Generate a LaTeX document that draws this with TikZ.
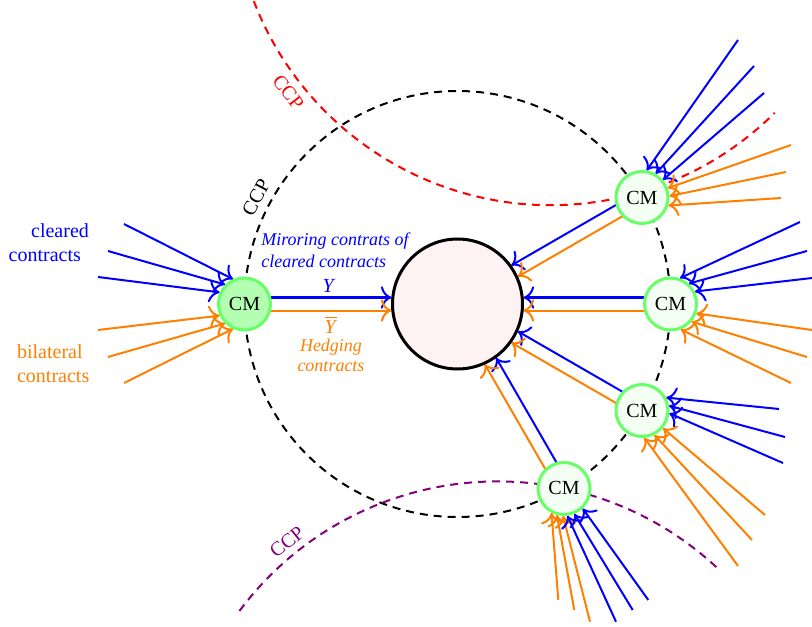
\documentclass[tikz,border=0pt]{standalone}
\usepackage{fontspec}
\setmainfont{Liberation Serif}
\usetikzlibrary{calc,backgrounds,arrows.meta}
\definecolor{cmgreen}{RGB}{102,255,102}
\definecolor{mypurple}{RGB}{128,0,128}
\begin{document}
\begin{tikzpicture}[x=0.5pt,y=0.5pt,
  cmnode/.style={circle,draw=cmgreen,line width=1.5pt,fill=green!5,minimum size=26pt,inner sep=0pt},
  ccpcirc/.style={line width=1pt,dash pattern=on 4pt off 3pt},
  bl/.style={blue,line width=1pt,-{To[scale=1.4]}},
  og/.style={orange,line width=1pt,-{To[scale=1.4]}},
]
\useasboundingbox (-457.5,-322) rectangle (354.5,304);
% central node and CM nodes
\node[circle,draw,line width=1.5pt,fill=red!5,minimum size=65pt,inner sep=0pt] (c) at (0,0) {};
\node[cmnode,fill=green!30] (cmL) at (180:213) {CM};
\node[cmnode] (cmTR) at (30:213) {CM};
\node[cmnode] (cmR) at (0:213) {CM};
\node[cmnode] (cmBR) at (-30:213) {CM};
\node[cmnode] (cmB) at (-60:213) {CM};

\begin{scope}[on background layer]
\draw[ccpcirc] (0,0) circle[radius=213];
\draw[ccpcirc,red] (93.2,416.8) ++(201:318) arc[start angle=201,end angle=314.8,radius=318];
\draw[ccpcirc,mypurple] (40.1,-499.4) ++(143.3:322) arc[start angle=143.3,end angle=46.2,radius=322];
% mirrored flows into the central node
\draw[bl] ($(cmL)+(90:6.5)$) -- ($(c)+(180:66)+(90:6.5)$);
\draw[og] ($(cmL)+(270:6.5)$) -- ($(c)+(180:66)+(270:6.5)$);
\draw[bl] ($(cmTR)+(120:6.5)$) -- ($(c)+(30:66)+(120:6.5)$);
\draw[og] ($(cmTR)+(-60:6.5)$) -- ($(c)+(30:66)+(-60:6.5)$);
\draw[bl] ($(cmR)+(90:6.5)$) -- ($(c)+(0:66)+(90:6.5)$);
\draw[og] ($(cmR)+(-90:6.5)$) -- ($(c)+(0:66)+(-90:6.5)$);
\draw[bl] ($(cmBR)+(60:6.5)$) -- ($(c)+(-30:66)+(60:6.5)$);
\draw[og] ($(cmBR)+(-120:6.5)$) -- ($(c)+(-30:66)+(-120:6.5)$);
\draw[bl] ($(cmB)+(30:6.5)$) -- ($(c)+(-60:66)+(30:6.5)$);
\draw[og] ($(cmB)+(-150:6.5)$) -- ($(c)+(-60:66)+(-150:6.5)$);
\end{scope}

% free ends of incoming contracts
\coordinate (lb1) at (-333.5,80);  \coordinate (lb2) at (-349.5,53);  \coordinate (lb3) at (-359.5,27);
\coordinate (lo1) at (-359.5,-26); \coordinate (lo2) at (-349.5,-53); \coordinate (lo3) at (-333.5,-79);
\coordinate (tb1) at (280.5,264);  \coordinate (tb2) at (296.5,238);  \coordinate (tb3) at (306.5,211);
\coordinate (to1) at (333.5,159);  \coordinate (to2) at (328.5,132);  \coordinate (to3) at (323.5,106);
\coordinate (rb1) at (342.5,82);   \coordinate (rb2) at (349.5,53);   \coordinate (rb3) at (354.5,26);
\coordinate (ro1) at (354.5,-26);  \coordinate (ro2) at (349.5,-53);  \coordinate (ro3) at (333.5,-79);
\coordinate (sb1) at (321.5,-105); \coordinate (sb2) at (327.5,-133); \coordinate (sb3) at (325.5,-159);
\coordinate (so1) at (307.5,-211); \coordinate (so2) at (294.5,-236); \coordinate (so3) at (280.5,-262);
\coordinate (bo1) at (100.8,-296); \coordinate (bo2) at (116.8,-306); \coordinate (bo3) at (132.5,-317.7);
\coordinate (bb1) at (158.5,-317.7); \coordinate (bb2) at (175.2,-306); \coordinate (bb3) at (190.8,-296);

\draw[bl] (lb1) -- (cmL.115);
\draw[bl] (lb2) -- (cmL.135);
\draw[bl] (lb3) -- (cmL.155);
\draw[og] (lo1) -- (cmL.205);
\draw[og] (lo2) -- (cmL.225);
\draw[og] (lo3) -- (cmL.245);

\draw[bl] (tb1) -- (cmTR.80);
\draw[bl] (tb2) -- (cmTR.60);
\draw[bl] (tb3) -- (cmTR.40);
\draw[og] (to1) -- (cmTR.20);
\draw[og] (to2) -- (cmTR.3);
\draw[og] (to3) -- (cmTR.-17);

\draw[bl] (rb1) -- (cmR.70);
\draw[bl] (rb2) -- (cmR.48);
\draw[bl] (rb3) -- (cmR.27);
\draw[og] (ro1) -- (cmR.-20);
\draw[og] (ro2) -- (cmR.-40);
\draw[og] (ro3) -- (cmR.-68);

\draw[bl] (sb1) -- (cmBR.28);
\draw[bl] (sb2) -- (cmBR.10);
\draw[bl] (sb3) -- (cmBR.-6);
\draw[og] (so1) -- (cmBR.-40);
\draw[og] (so2) -- (cmBR.-63);
\draw[og] (so3) -- (cmBR.-85);

\draw[og] (bo1) -- (cmB.-117);
\draw[og] (bo2) -- (cmB.-105);
\draw[og] (bo3) -- (cmB.-92);
\draw[bl] (bb1) -- (cmB.-83);
\draw[bl] (bb2) -- (cmB.-68);
\draw[bl] (bb3) -- (cmB.-47);

% labels
\node[red,rotate=-52] (ccpR) at (-169.2,211.8) {CCP};
\node[rotate=62] (ccpB) at (-201.4,106.3) {CCP};
\node[mypurple,rotate=39] (ccpP) at (-170.5,-238) {CCP};

\node[blue,align=right,anchor=north east,inner sep=0pt] (lcl) at (-368.2,81) {cleared\\contracts\hspace*{4pt}};
\node[orange,align=left,anchor=north west,inner sep=0pt] (lbi) at (-440.8,-40.3) {bilateral\\contracts};
\node[blue,align=left,anchor=north west,inner sep=0pt,font=\small\itshape] (lmir) at (-196.5,72) {Miroring contrats of\\cleared contracts};
\node[blue,inner sep=0pt] (ly) at (-128.5,18) {\textit{Y}};
\node[orange,inner sep=0pt] (lyb) at (-126.5,-21) {$\overline{\mbox{\textit{Y}}}$};
\node[orange,align=center,anchor=north,inner sep=0pt,font=\small\itshape] (lhed) at (-126.5,-35) {Hedging\\[-1pt]contracts};
\end{tikzpicture}
\end{document}
